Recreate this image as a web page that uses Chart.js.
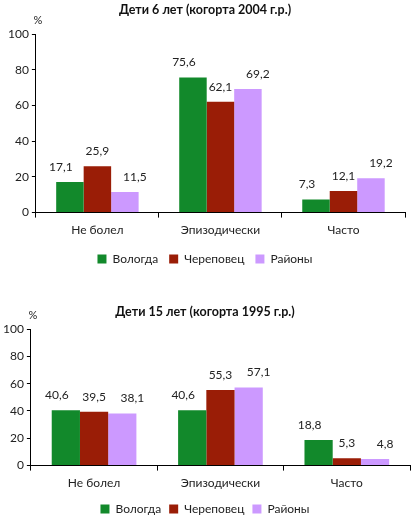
<!DOCTYPE html>
<html>
<head>
<meta charset="utf-8">
<script src="https://cdn.jsdelivr.net/npm/chart.js@4"></script>
<style>
    body { margin: 0; background: #fff; width: 413px; height: 515px; overflow: hidden; }
    .box { position: absolute; left: 0; width: 413px; }
    #box1 { top: 0; height: 272px; }
    #box2 { top: 272px; height: 243px; }
</style>
</head>
<body>
<div class="box" id="box1"><canvas id="chart6"></canvas></div>
<div class="box" id="box2"><canvas id="chart15"></canvas></div>
<script>
const categories = ["Не болел", "Эпизодически", "Часто"];
const seriesNames = ["Вологда", "Череповец", "Районы"];
const yTicks = [0, 20, 40, 60, 80, 100];

// Дети 6 лет
const vologda6 = [17.1, 75.6, 7.3];
const cherepovets6 = [25.9, 62.1, 12.1];
const rayony6 = [11.5, 69.2, 19.2];

// Дети 15 лет
const vologda15 = [40.6, 40.6, 18.8];
const cherepovets15 = [39.5, 55.3, 5.3];
const rayony15 = [38.1, 57.1, 4.8];

const colors = ["#12892b", "#9a1d06", "#cc99ff"];
const fontFamily = "Lato, 'Open Sans', sans-serif";
const labelShift = [-9, 0, 10]; // в оригинале подписи чуть разнесены

// подписи значений над столбиками
const valueLabels = {
    id: "valueLabels",
    afterDatasetsDraw(chart) {
        const ctx = chart.ctx;
        ctx.save();
        ctx.font = "12px " + fontFamily;
        ctx.fillStyle = "#222";
        ctx.textAlign = "center";
        ctx.textBaseline = "middle";
        chart.data.datasets.forEach((ds, i) => {
            chart.getDatasetMeta(i).data.forEach((bar, j) => {
                ctx.fillText(ds.data[j].toFixed(1).replace(".", ","), bar.x + labelShift[i], bar.y - 15);
            });
        });
        ctx.restore();
    }
};

// значок % над осью Y
const percentSign = {
    id: "percentSign",
    afterDraw(chart) {
        const ctx = chart.ctx;
        ctx.save();
        ctx.font = "11px " + fontFamily;
        ctx.fillStyle = "#222";
        ctx.textAlign = "center";
        ctx.textBaseline = "middle";
        ctx.fillText("%", chart.chartArea.left + 2, chart.chartArea.top - 14);
        ctx.restore();
    }
};

function makeChart(id, title, v, c, r, pad) {
    const ctx = document.getElementById(id).getContext("2d");
    return new Chart(ctx, {
        type: "bar",
        data: {
            labels: categories,
            datasets: [
                { label: seriesNames[0], data: v, backgroundColor: colors[0] },
                { label: seriesNames[1], data: c, backgroundColor: colors[1] },
                { label: seriesNames[2], data: r, backgroundColor: colors[2] }
            ]
        },
        options: {
            responsive: true,
            maintainAspectRatio: false,
            animation: false,
            layout: { padding: pad },
            datasets: { bar: { barPercentage: 1, categoryPercentage: 0.67 } },
            scales: {
                x: {
                    grid: { drawOnChartArea: false, color: "#000", tickLength: 5, offset: true },
                    border: { color: "#000" },
                    ticks: { color: "#222", font: { family: fontFamily, size: 12 }, padding: 5 }
                },
                y: {
                    min: 0,
                    max: 100,
                    afterBuildTicks: axis => { axis.ticks = yTicks.map(v => ({ value: v })); },
                    grid: { drawOnChartArea: false, color: "#000", tickLength: 4 },
                    border: { color: "#000" },
                    ticks: { color: "#222", font: { family: fontFamily, size: 12 }, padding: 3 }
                }
            },
            plugins: {
                title: {
                    display: true,
                    text: title,
                    color: "#111",
                    font: { family: fontFamily, size: 12.5, weight: "bold" },
                    padding: pad.titlePad
                },
                legend: {
                    position: "bottom",
                    labels: {
                        boxWidth: 9,
                        boxHeight: 9,
                        color: "#222",
                        font: { family: fontFamily, size: 12 },
                        padding: pad.legendPad
                    }
                },
                tooltip: { enabled: false }
            }
        },
        plugins: [valueLabels, percentSign]
    });
}

document.addEventListener("DOMContentLoaded", function () {
    makeChart("chart6", "Дети 6 лет (когорта 2004 г.р.)", vologda6, cherepovets6, rayony6,
        { left: 5, right: 8, top: 2, bottom: -3, titlePad: { top: 0, bottom: 17 }, legendPad: 11 });
    makeChart("chart15", "Дети 15 лет (когорта 1995 г.р.)", vologda15, cherepovets15, rayony15,
        { left: 0, right: 3, top: 32, bottom: -10, titlePad: { top: 0, bottom: 10 }, legendPad: 8 });
});
</script>
</body>
</html>
